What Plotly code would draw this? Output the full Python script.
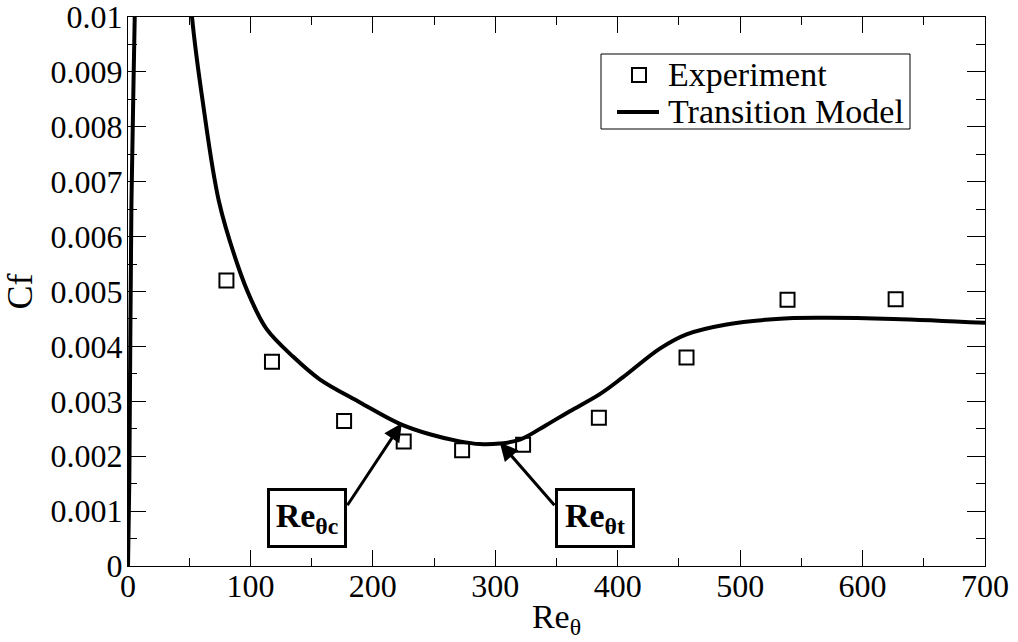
import plotly.graph_objects as go

# Measured skin-friction data
re_exp = [80.4, 117.6, 176.5, 225.2, 272.9, 322.7, 384.6, 456.2, 538.7, 627.0]
cf_exp = [0.00520, 0.00372, 0.00264, 0.00227, 0.00211, 0.00221, 0.00270, 0.00380, 0.00485, 0.00486]

# Transition model prediction (leading-edge branch leaves the axis range and re-enters)
re_model = [0, 1.1, 2.8, 5.5, 8, 15, 30, 45, 52.3, 61.3, 74.3, 89.9, 100, 113.1, 135, 156.6,
            189.5, 222, 246.5, 271, 287.3, 303.6, 320, 341.8, 360.9, 385.4, 404.4,
            434.4, 456.2, 488.9, 529.7, 565, 625, 700]
cf_model = [0, 0.0016, 0.0066, 0.0100, 0.0135, 0.0200, 0.0180, 0.0125, 0.0100, 0.00842,
            0.00664, 0.00546, 0.00488, 0.00432, 0.00381, 0.00340, 0.00298, 0.00259, 0.00240,
            0.00227, 0.00222, 0.00223, 0.00230, 0.00257, 0.00282, 0.00313, 0.00344,
            0.00396, 0.00422, 0.00440, 0.00450, 0.00452, 0.00450, 0.00443]

x_tick_vals = [0, 100, 200, 300, 400, 500, 600, 700]
x_tick_text = ["0", "100", "200", "300", "400", "500", "600", "700"]
y_tick_vals = [0, 0.001, 0.002, 0.003, 0.004, 0.005, 0.006, 0.007, 0.008, 0.009, 0.01]
y_tick_text = ["0", "0.001", "0.002", "0.003", "0.004", "0.005", "0.006", "0.007",
               "0.008", "0.009", "0.01"]

# Labelled transition points: (label, box centre Re, box centre Cf, arrow tail, arrow tip)
marks = [
    ("<b>Re<sub>θc</sub></b>", 146.4, 0.00088, (178.4, 0.00108), (223.6, 0.00260)),
    ("<b>Re<sub>θt</sub></b>", 381.7, 0.00088, (349.4, 0.00108), (303.7, 0.00225)),
]

SERIF = "Liberation Serif, Times New Roman, serif"

# Figure geometry (pixels) used to place the hand-drawn legend in paper units
W, H = 1018, 642
ML, MR, MT, MB = 128, 33, 17, 76
PW, PH = W - ML - MR, H - MT - MB


def px(x):
    return (x - ML) / PW


def py(y):
    return (H - MB - y) / PH


fig = go.Figure()
fig.add_trace(go.Scatter(
    x=re_exp, y=cf_exp, mode="markers", name="Experiment",
    marker=dict(symbol="square-open", size=14, color="black", line=dict(width=2, color="black")),
))
fig.add_trace(go.Scatter(
    x=re_model, y=cf_model, mode="lines", name="Transition Model",
    line=dict(color="black", width=4, shape="spline", smoothing=1.0),
))

for label, bx, by, tail, tip in marks:
    fig.add_annotation(
        x=bx, y=by, xref="x", yref="y", text=label, showarrow=False,
        font=dict(family=SERIF, size=34, color="black"),
        bgcolor="white", bordercolor="black", borderwidth=3, borderpad=2,
        width=70, height=50,
    )
    fig.add_annotation(
        x=tip[0], y=tip[1], ax=tail[0], ay=tail[1], xref="x", yref="y",
        axref="x", ayref="y", text="", showarrow=True,
        arrowhead=2, arrowsize=1.2, arrowwidth=3, arrowcolor="black",
    )

# Legend box with sample symbols
fig.add_shape(type="rect", xref="paper", yref="paper",
              x0=px(601), x1=px(910), y0=py(129), y1=py(54),
              line=dict(color="black", width=1), fillcolor="white", layer="above")
fig.add_shape(type="rect", xref="paper", yref="paper",
              x0=px(632), x1=px(646), y0=py(82), y1=py(68),
              line=dict(color="black", width=2), layer="above")
fig.add_shape(type="line", xref="paper", yref="paper",
              x0=px(617), x1=px(659), y0=py(112), y1=py(112),
              line=dict(color="black", width=4), layer="above")
for name, yc in (("Experiment", 74), ("Transition Model", 111)):
    fig.add_annotation(
        x=px(666), y=py(yc), xref="paper", yref="paper", text=name,
        xanchor="left", yanchor="middle", showarrow=False,
        font=dict(family=SERIF, size=34, color="black"),
    )

axis_common = dict(
    showline=True, linecolor="black", linewidth=1, mirror="allticks",
    ticks="inside", tickcolor="black", tickwidth=1,
    showgrid=False, zeroline=False, ticklabeloverflow="allow",
    tickfont=dict(family=SERIF, size=32, color="black"),
)

fig.update_xaxes(
    range=[0, 700], tickvals=x_tick_vals, ticktext=x_tick_text, ticklen=16,
    ticklabelstandoff=-8,
    minor=dict(ticks="inside", ticklen=8, dtick=50, tickcolor="black", tickwidth=1, showgrid=False),
    title=dict(text="Re<sub>θ</sub>", font=dict(family=SERIF, size=34, color="black"), standoff=0),
    **axis_common,
)
fig.update_yaxes(
    range=[0, 0.0100001], tickvals=y_tick_vals, ticktext=y_tick_text, ticklen=18,
    ticklabelstandoff=-2,
    minor=dict(ticks="inside", ticklen=9, dtick=0.0005, tickcolor="black", tickwidth=1, showgrid=False),
    title=dict(text="Cf", font=dict(family=SERIF, size=36, color="black"), standoff=6),
    **axis_common,
)

fig.update_layout(
    width=W, height=H,
    margin=dict(l=ML, r=MR, t=MT, b=MB, autoexpand=False),
    plot_bgcolor="white", paper_bgcolor="white",
    font=dict(family=SERIF, color="black"),
    showlegend=False,
)

fig.write_html("out.html")
